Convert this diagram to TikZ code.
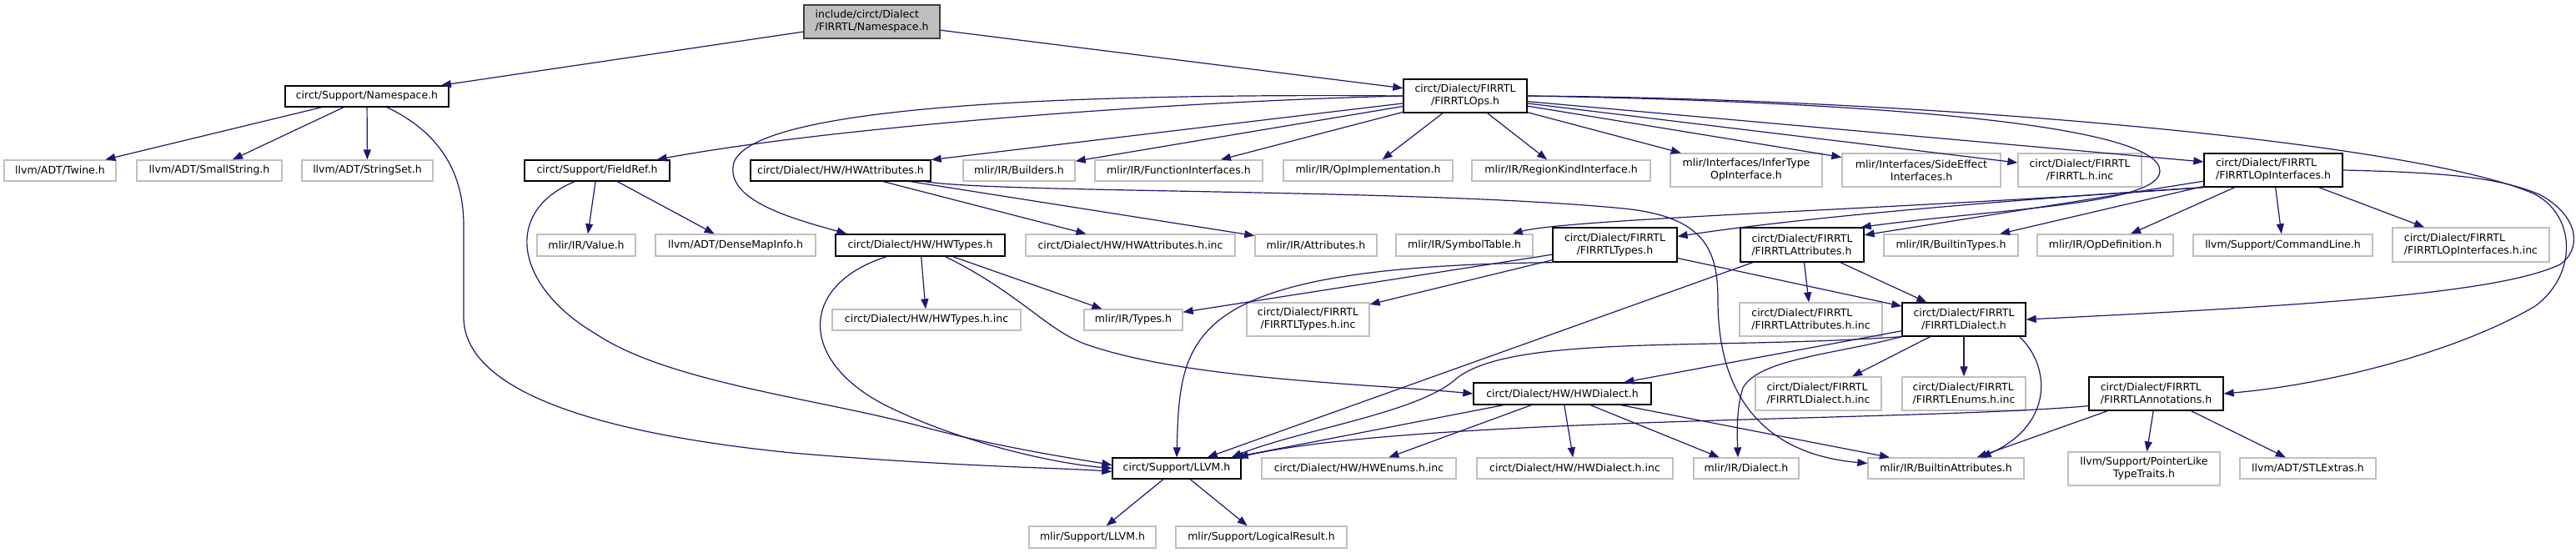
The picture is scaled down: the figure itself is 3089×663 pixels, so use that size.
\documentclass[tikz,border=0pt]{standalone}
\usepackage{fontspec}
\setmainfont{DejaVu Sans}
\usetikzlibrary{arrows.meta,calc}
\definecolor{edgec}{HTML}{191970}
\definecolor{extc}{HTML}{BFBFBF}
\definecolor{rootfill}{HTML}{BFBFBF}
\definecolor{rootdraw}{HTML}{404040}
\tikzset{
  base/.style={rectangle, inner sep=0pt, font=\fontsize{12.5}{15}\selectfont, text=black, line width=1.3pt},
  doc/.style={base, draw=black},
  ext/.style={base, draw=extc},
  rootn/.style={base, draw=rootdraw, fill=rootfill},
  sz/.style 2 args={minimum width=#1pt, minimum height=#2pt},
  conn/.style={draw=edgec, line width=1.2pt, -{Triangle[length=12pt,width=9pt]}, fill=none},
}
\begin{document}
\begin{tikzpicture}[x=1pt,y=-1pt]
\useasboundingbox (0,0) rectangle (3089,663);
% nodes
\node[rootn,sz={163}{40},align=left] (root) at (1045.5,26) {include/circt/Dialect\\/FIRRTL/Namespace.h};
\node[doc,sz={196}{25}] (ns) at (440,115.5) {circt/Support/Namespace.h};
\node[doc,sz={148}{40},align=center] (ops) at (1757,115) {circt/Dialect/FIRRTL\\/FIRRTLOps.h};
\node[ext,sz={134}{25}] (twine) at (72,204.5) {llvm/ADT/Twine.h};
\node[ext,sz={174}{25}] (smallstr) at (251,204.5) {llvm/ADT/SmallString.h};
\node[ext,sz={157}{25}] (strset) at (440.5,204.5) {llvm/ADT/StringSet.h};
\node[doc,sz={174}{25}] (fieldref) at (716,204.5) {circt/Support/FieldRef.h};
\node[doc,sz={216}{25}] (hwattr) at (1008,204.5) {circt/Dialect/HW/HWAttributes.h};
\node[ext,sz={134}{25}] (builders) at (1222,204.5) {mlir/IR/Builders.h};
\node[ext,sz={201}{25}] (funcif) at (1413.5,204.5) {mlir/IR/FunctionInterfaces.h};
\node[ext,sz={203}{25}] (opimpl) at (1640.5,204.5) {mlir/IR/OpImplementation.h};
\node[ext,sz={214}{25}] (regionkind) at (1872,204.5) {mlir/IR/RegionKindInterface.h};
\node[ext,sz={182}{40},align=center] (infertype) at (2094,204) {mlir/Interfaces/InferType\\OpInterface.h};
\node[ext,sz={190}{40},align=center] (sideeffect) at (2304,204) {mlir/Interfaces/SideEffect\\Interfaces.h};
\node[ext,sz={148}{40},align=center] (firrtlinc) at (2494,204) {circt/Dialect/FIRRTL\\/FIRRTL.h.inc};
\node[doc,sz={166}{40},align=left] (opif) at (2726,204) {circt/Dialect/FIRRTL\\/FIRRTLOpInterfaces.h};
\node[ext,sz={118}{26}] (value) at (703,294) {mlir/IR/Value.h};
\node[ext,sz={192}{26}] (densemap) at (882,294) {llvm/ADT/DenseMapInfo.h};
\node[doc,sz={203}{26}] (hwtypes) at (1103.5,294) {circt/Dialect/HW/HWTypes.h};
\node[ext,sz={251}{26}] (hwattrinc) at (1355.5,294) {circt/Dialect/HW/HWAttributes.h.inc};
\node[ext,sz={146}{26}] (attributes) at (1578,294) {mlir/IR/Attributes.h};
\node[ext,sz={164}{26}] (symtab) at (1756,294) {mlir/IR/SymbolTable.h};
\node[doc,sz={149}{41},align=center] (ftypes) at (1936.5,293.5) {circt/Dialect/FIRRTL\\/FIRRTLTypes.h};
\node[doc,sz={148}{41},align=left] (fattrs) at (2161,293.5) {circt/Dialect/FIRRTL\\/FIRRTLAttributes.h};
\node[ext,sz={161}{26}] (builtintypes) at (2339.5,294) {mlir/IR/BuiltinTypes.h};
\node[ext,sz={163}{26}] (opdef) at (2524.5,294) {mlir/IR/OpDefinition.h};
\node[ext,sz={215}{26}] (cmdline) at (2737.5,294) {llvm/Support/CommandLine.h};
\node[ext,sz={188}{41},align=left] (opifinc) at (2963,293.5) {circt/Dialect/FIRRTL\\/FIRRTLOpInterfaces.h.inc};
\node[ext,sz={226}{25}] (hwtypesinc) at (1111,383.5) {circt/Dialect/HW/HWTypes.h.inc};
\node[ext,sz={118}{25}] (types) at (1359,383.5) {mlir/IR/Types.h};
\node[ext,sz={147}{40},align=center] (ftypesinc) at (1568.5,383) {circt/Dialect/FIRRTL\\/FIRRTLTypes.h.inc};
\node[ext,sz={171}{40},align=left] (fattrsinc) at (2171.5,383) {circt/Dialect/FIRRTL\\/FIRRTLAttributes.h.inc};
\node[doc,sz={148}{40},align=center] (fdialect) at (2355,383) {circt/Dialect/FIRRTL\\/FIRRTLDialect.h};
\node[doc,sz={213}{26}] (hwdialect) at (1873.5,472) {circt/Dialect/HW/HWDialect.h};
\node[ext,sz={151}{40},align=left] (fdialectinc) at (2180.5,472) {circt/Dialect/FIRRTL\\/FIRRTLDialect.h.inc};
\node[ext,sz={148}{40},align=left] (fenumsinc) at (2355,472) {circt/Dialect/FIRRTL\\/FIRRTLEnums.h.inc};
\node[doc,sz={161}{40},align=left] (fannot) at (2585.5,472) {circt/Dialect/FIRRTL\\/FIRRTLAnnotations.h};
\node[doc,sz={154}{25}] (llvm) at (1411,561.5) {circt/Support/LLVM.h};
\node[ext,sz={233}{25}] (hwenumsinc) at (1629.5,561.5) {circt/Dialect/HW/HWEnums.h.inc};
\node[ext,sz={235}{25}] (hwdialectinc) at (1888.5,561.5) {circt/Dialect/HW/HWDialect.h.inc};
\node[ext,sz={126}{25}] (dialect) at (2094,561.5) {mlir/IR/Dialect.h};
\node[ext,sz={187}{25}] (builtinattrs) at (2333.5,561.5) {mlir/IR/BuiltinAttributes.h};
\node[ext,sz={182}{40},align=center] (pointerlike) at (2571,562) {llvm/Support/PointerLike\\TypeTraits.h};
\node[ext,sz={163}{25}] (stlextras) at (2767.5,561.5) {llvm/ADT/STLExtras.h};
\node[ext,sz={152}{26}] (mlirllvm) at (1310,644) {mlir/Support/LLVM.h};
\node[ext,sz={205}{26}] (logical) at (1512.5,644) {mlir/Support/LogicalResult.h};
% edges from root
\draw[conn] (root) -- (ns);
\draw[conn] (root) -- (ops);
% Namespace.h
\draw[conn] (ns) -- (twine);
\draw[conn] (ns) -- (smallstr);
\draw[conn] (ns) -- (strset);
\draw[conn] ($(ns.south)+(24,0)$) .. controls (530,160) and (556,210) .. (556,270) -- (556,380) .. controls (556,470) and (720,520) .. (950,543) .. controls (1150,560) and (1280,561) .. ($(llvm.west)+(0,4)$);
% FIRRTLOps.h
\draw[conn] (ops.west) .. controls (1400,122) and (1000,152) .. ($(fieldref.north east)+(-16,0)$);
\draw[conn] (ops.west) .. controls (1300,112) and (905,125) .. (880,195) .. controls (868,240) and (950,262) .. ($(hwtypes.north)+(-88,0)$);
\draw[conn] (ops) -- (hwattr);
\draw[conn] (ops) -- (builders);
\draw[conn] (ops) -- (funcif);
\draw[conn] (ops) -- (opimpl);
\draw[conn] (ops) -- (regionkind);
\draw[conn] (ops) -- (infertype);
\draw[conn] (ops) -- (sideeffect);
\draw[conn] (ops) -- (firrtlinc);
\draw[conn] (ops) -- ($(opif.west)+(0,-10)$);
\draw[conn] (ops.east) .. controls (2250,122) and (2590,150) .. (2590,205) .. controls (2590,245) and (2400,250) .. ($(fattrs.north east)+(-4,0)$);
\draw[conn] (ops.east) .. controls (2300,118) and (2900,170) .. (3040,233) .. controls (3090,260) and (3090,330) .. (3040,367) .. controls (2950,420) and (2800,460) .. (fannot.east);
% FIRRTLOpInterfaces.h
\draw[conn] (opif.east) .. controls (2950,207) and (3000,215) .. (3045,233) .. controls (3095,260) and (3095,300) .. (3070,317) .. controls (3000,350) and (2800,365) .. (fdialect.east);
\draw[conn] (opif.south west) .. controls (2300,250) and (1880,262) .. ($(symtab.north east)+(-25,0)$);
\draw[conn] (opif.south west) .. controls (2400,240) and (2150,262) .. ($(ftypes.east)+(0,-10)$);
\draw[conn] (opif) -- (fattrs);
\draw[conn] (opif) -- (builtintypes);
\draw[conn] (opif) -- (opdef);
\draw[conn] (opif) -- (cmdline);
\draw[conn] (opif) -- (opifinc);
% FieldRef.h
\draw[conn] (fieldref) -- (value);
\draw[conn] (fieldref) -- (densemap);
\draw[conn] ($(fieldref.south)+(-27,0)$) .. controls (600,255) and (620,345) .. (714,400) .. controls (800,458) and (980,478) .. (1100,510) .. controls (1200,537) and (1290,550) .. ($(llvm.west)+(0,-4)$);
% HWAttributes.h
\draw[conn] (hwattr) -- (hwattrinc);
\draw[conn] (hwattr) -- (attributes);
\draw[conn] ($(hwattr.south east)+(-8,0)$) .. controls (1200,232) and (1700,226) .. (1947,250) .. controls (2045,260) and (2060,300) .. (2060,360) .. controls (2060,480) and (2120,545) .. ($(builtinattrs.west)+(0,-6)$);
% HWTypes.h
\draw[conn] (hwtypes) -- (hwtypesinc);
\draw[conn] (hwtypes) -- (types);
\draw[conn] ($(hwtypes.south)+(-40,0)$) .. controls (960,340) and (955,430) .. (1060,485) .. controls (1150,530) and (1260,555) .. (llvm.west);
\draw[conn] ($(hwtypes.south)+(30,0)$) .. controls (1220,350) and (1255,395) .. (1300,412) .. controls (1420,455) and (1640,460) .. (hwdialect.west);
% FIRRTLTypes.h
\draw[conn] (ftypes) -- (ftypesinc);
\draw[conn] (ftypes) -- (types);
\draw[conn] (ftypes) -- (fdialect);
\draw[conn] (ftypes.south west) .. controls (1420,320) and (1415,400) .. (llvm.north);
% FIRRTLAttributes.h
\draw[conn] (fattrs) -- (fattrsinc);
\draw[conn] (fattrs) -- (fdialect);
\draw[conn] (fattrs) -- (llvm);
% FIRRTLDialect.h
\draw[conn] (fdialect) -- (hwdialect);
\draw[conn] (fdialect) -- (fdialectinc);
\draw[conn] (fdialect) -- (fenumsinc);
\draw[conn] (fdialect.south west) .. controls (2200,425) and (2110,430) .. (2090,465) .. controls (2082,490) and (2083,520) .. ($(dialect.north)+(-10,0)$);
\draw[conn] ($(fdialect.south east)+(-8,0)$) .. controls (2460,440) and (2462,510) .. ($(builtinattrs.north)+(42,0)$);
\draw[conn] (fdialect.south west) .. controls (2050,420) and (1810,400) .. (1745,455) .. controls (1700,495) and (1560,515) .. ($(llvm.north east)+(-12,0)$);
% FIRRTLAnnotations.h
\draw[conn] ($(fannot.south west)+(0,-6)$) .. controls (2300,505) and (1700,500) .. ($(llvm.north east)+(-4,0)$);
\draw[conn] (fannot) -- (builtinattrs);
\draw[conn] (fannot) -- (pointerlike);
\draw[conn] (fannot) -- (stlextras);
% HWDialect.h
\draw[conn] (hwdialect) -- (llvm);
\draw[conn] (hwdialect) -- (hwenumsinc);
\draw[conn] (hwdialect) -- (hwdialectinc);
\draw[conn] (hwdialect) -- (dialect);
\draw[conn] (hwdialect) -- (builtinattrs);
% LLVM.h
\draw[conn] (llvm) -- (mlirllvm);
\draw[conn] (llvm) -- (logical);
\end{tikzpicture}
\end{document}
